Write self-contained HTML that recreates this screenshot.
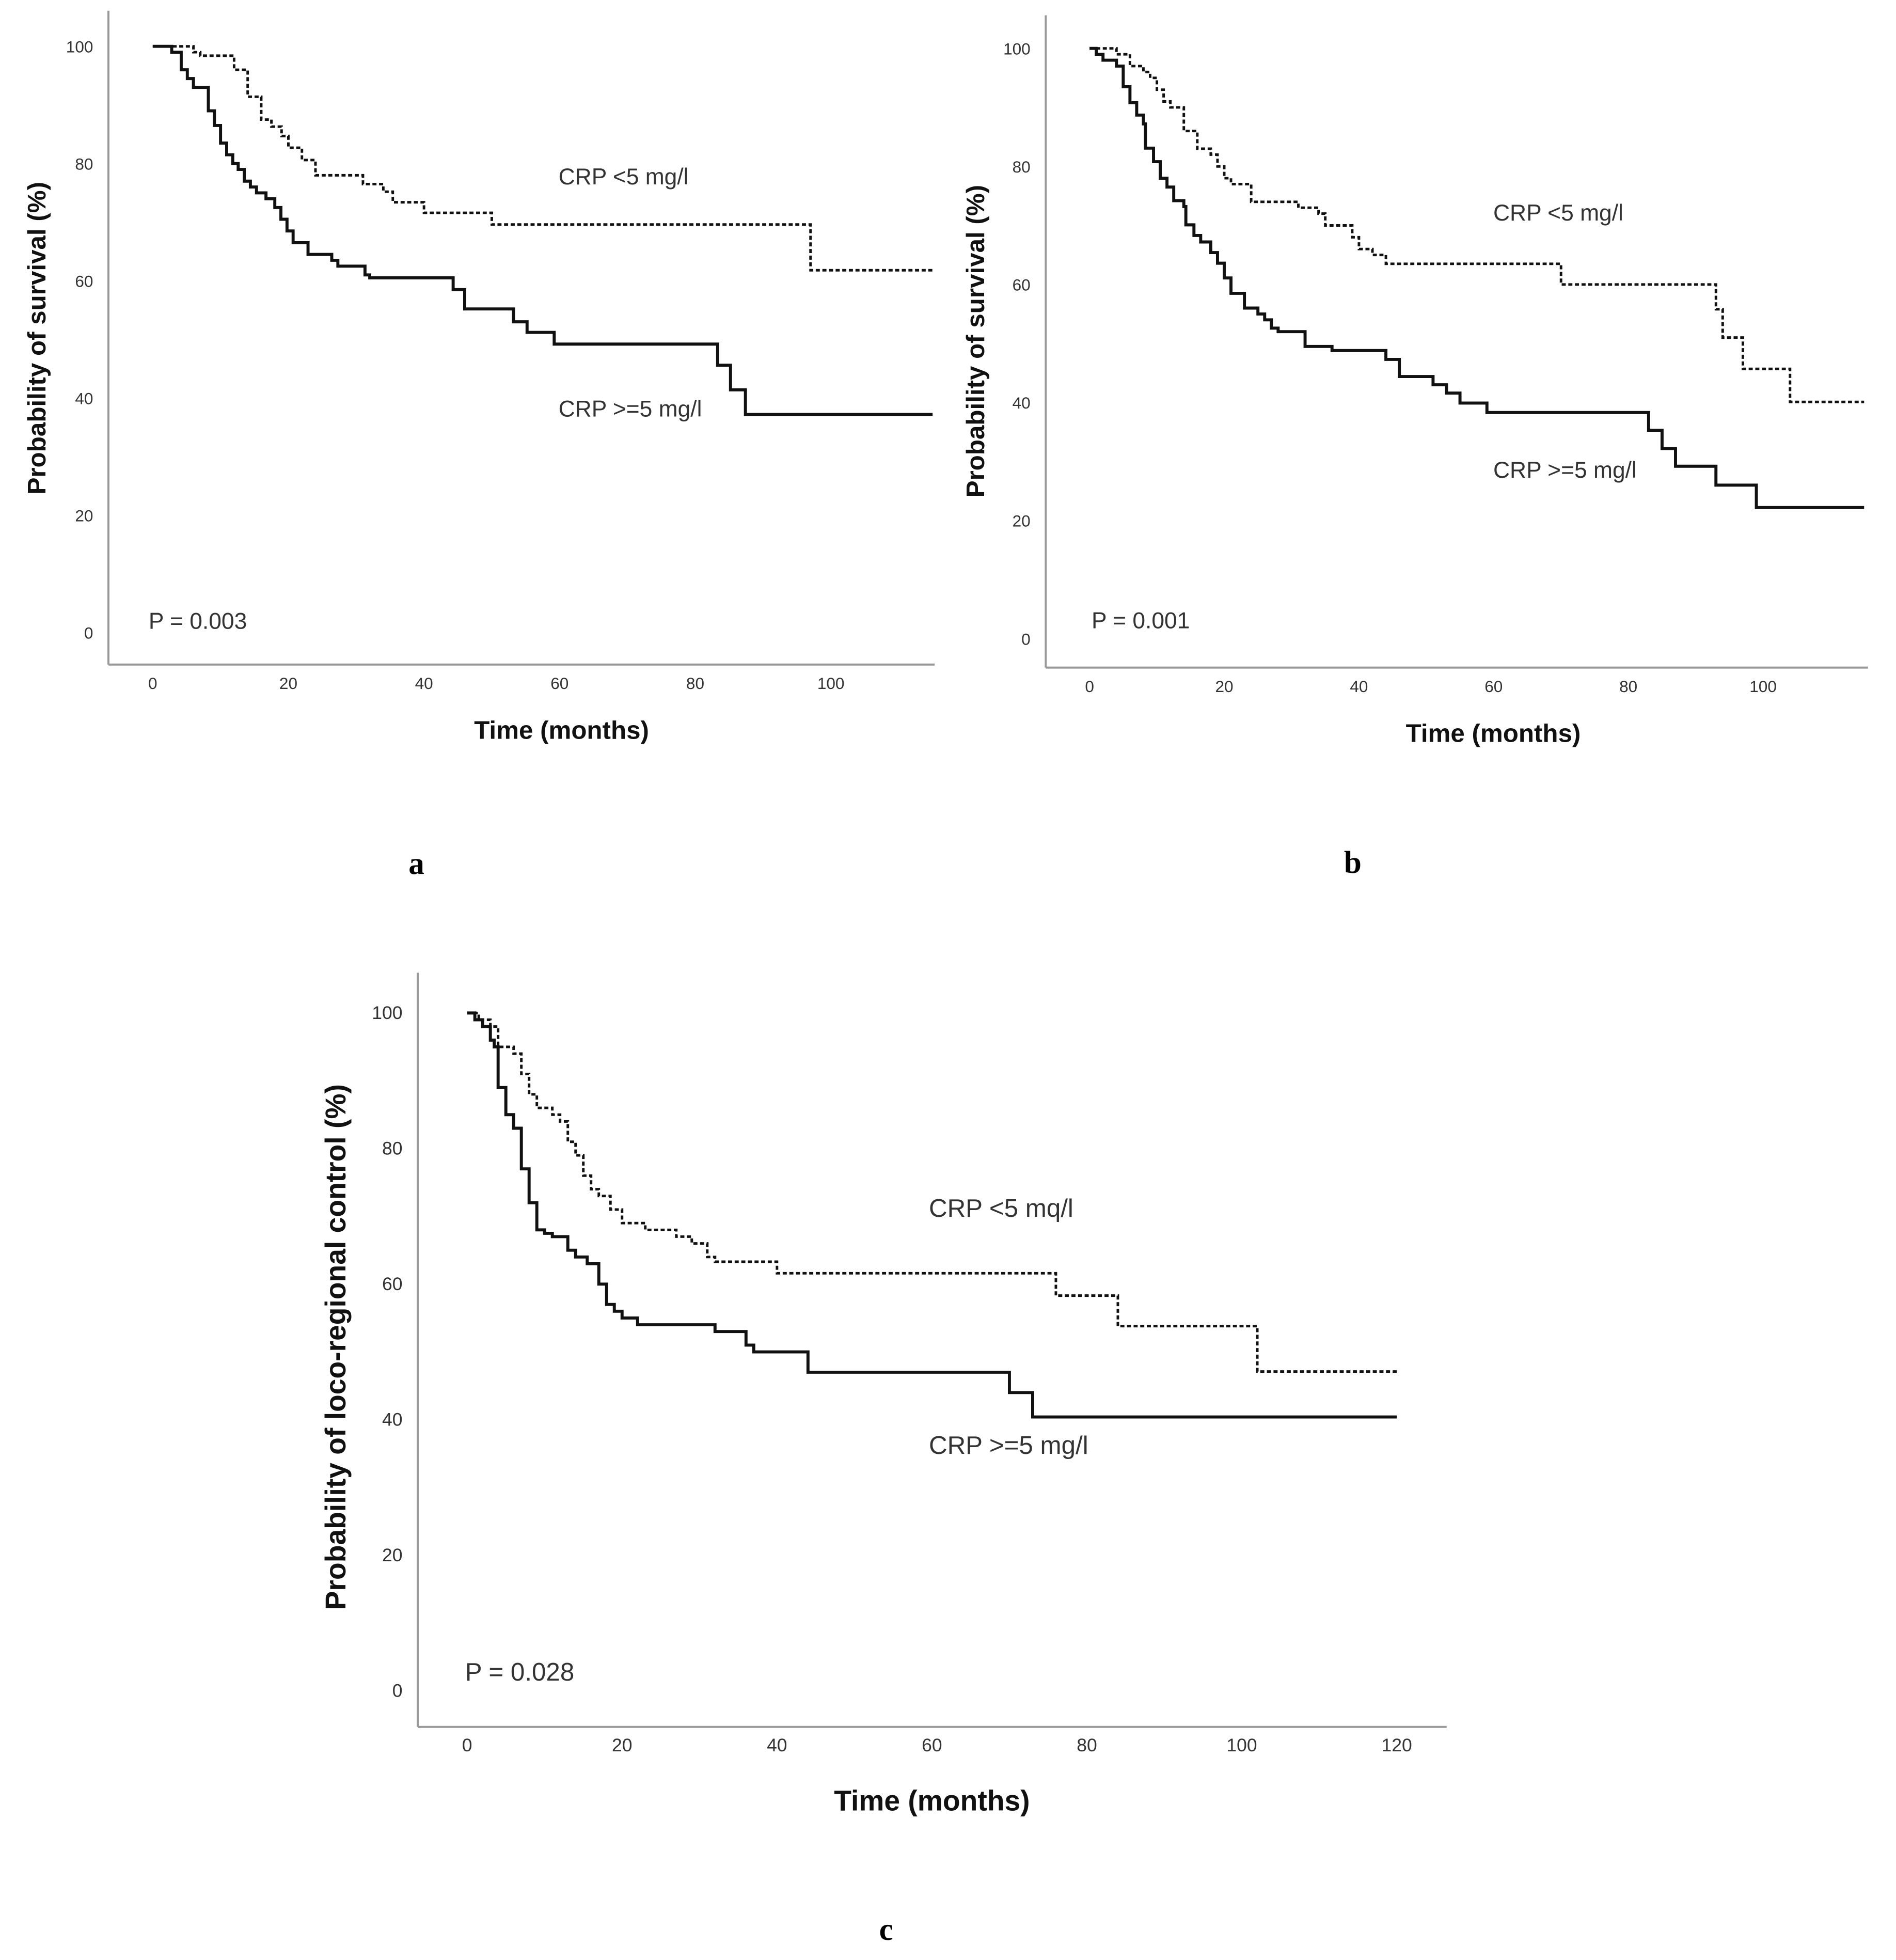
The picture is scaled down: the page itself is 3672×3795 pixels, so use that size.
<!DOCTYPE html>
<html><head><meta charset="utf-8">
<style>
html,body{margin:0;padding:0;background:#fff;}
svg{display:block;}
text{font-family:"Liberation Sans",sans-serif;}
</style></head>
<body>
<svg id="fig" width="3672" height="3795" viewBox="0 0 3672 3795" xmlns="http://www.w3.org/2000/svg"></svg>
<script>
// ---- Panel a data ----
const aLowT = [0,6,7,12,14,16,17.5,19,20,22,24,31,34,35.4,40,50,97,115];
const aLowS = [100,99,98.4,96,91.4,87.5,86.3,84.7,82.7,80.6,78,76.5,75.2,73.4,71.6,69.6,61.8,61.8];
const aHighT = [0,2.8,4.2,5.1,6,8.2,9.1,10,10.9,11.8,12.6,13.5,14.4,15.3,16.7,18,18.9,19.8,20.7,22.9,26.4,27.3,31.3,32,44.3,46,53.2,55.2,59.2,83.3,85.2,87.4,115];
const aHighS = [100,99,96,94.5,93,89,86.5,83.5,81.5,80,79,77,76,75,74,72.5,70.5,68.5,66.5,64.5,63.5,62.5,61,60.5,58.5,55.2,53,51.2,49.2,45.6,41.4,37.2,37.2];
// ---- Panel b data ----
const bLowT = [0,4,6,8,9,10,11,12,14,16,18,19,20,21,24,31,34,35,39,40,42,44,70,93,94,97,104,115];
const bLowS = [100,99,97,96,95,93,91,90,86,83,82,80,78,77,74,73,72,70,68,66,65,63.5,60,55.8,51,45.7,40.1,40.1];
const bHighT = [0,1,2,4,5,6,7,8,8.3,9.5,10.5,11.5,12.5,14,14.3,15.5,16.5,18,19,20,21,23,25,26,27,28,32,36,44,46,51,53,55,59,83,85,87,93,99,115];
const bHighS = [100,99,98,97,93.5,90.8,88.7,87.2,83.1,80.8,78,76.5,74.2,73.2,70.1,68.3,67.2,65.4,63.6,61.1,58.5,56,55,54,52.6,52,49.5,48.8,47.3,44.4,43,41.6,39.9,38.3,35.3,32.2,29.2,26,22.2,22.2];
// ---- Panel c data ----
const cLowT = [0,1.5,3,4,6,7,8,9,11,12,13,14,15,16,17,18.5,20,23,27,29,31,32,40,76,84,102,120];
const cLowS = [100,99,98,95,94,91,88,86,85,84,81,79,76,74,73,71,69,68,67,66,64,63.3,61.6,58.3,53.8,47.1,47.1];
const cHighT = [0,1,2,3,3.5,4,5,6,7,8,9,10,11,13,14,15.5,17,18,19,20,22,32,36,37,44,70,73,120];
const cHighS = [100,99,98,96,95,89,85,83,77,72,68,67.5,67,65,64,63,60,57,56,55,54,53,51,50,47,44,40.4,40.4];
// ---- ticks ----
const yTicks = [0,20,40,60,80,100];
const xTicksAB = [0,20,40,60,80,100];
const xTicksC = [0,20,40,60,80,100,120];

const NS = "http://www.w3.org/2000/svg";
const svg = document.getElementById('fig');
function mk(tag, attrs, parent){ const e=document.createElementNS(NS,tag); for(const k in attrs) e.setAttribute(k,attrs[k]); (parent||svg).appendChild(e); return e; }

function panel(p){
  const g = mk('g',{transform:'translate('+p.ox+','+p.oy+') scale(0.986) translate('+(-p.ox)+','+(-p.oy)+')'});
  
  
  const X = m => p.x0 + (p.x1 - p.x0) * m / p.xMax;
  const Y = v => p.y0 + (p.y100 - p.y0) * v / 100;
  const ya = mk('line',{x1:p.ax,y1:p.top,x2:p.ax,y2:p.ay,stroke:'#999','stroke-width':4},g);
  
  
  const xa = mk('line',{x1:p.ax,y1:p.ay,x2:p.right,y2:p.ay,stroke:'#999','stroke-width':4},g);
  
  
  yTicks.forEach(v=>{
    const t = mk('text',{x:p.ax-30,y:Y(v)+12,'text-anchor':'end','font-size':p.tf,fill:'#333'},g);
    t.textContent = v;
    
    
  });
  p.xt.forEach(v=>{
    const t = mk('text',{x:X(v),y:p.ay+48,'text-anchor':'middle','font-size':p.tf,fill:'#333'},g);
    t.textContent = v;
    
    
  });
  function step(T,S,dashed,name){
    let d = 'M'+X(T[0])+','+Y(S[0]);
    for(let i=1;i<T.length;i++){ d += ' H'+X(T[i])+' V'+Y(S[i]); }
    const path = mk('path',{d:d,fill:'none',stroke:'#111','stroke-width':dashed?5:6,'stroke-dasharray':dashed?'8 5':'none'},g);
    
    
  }
  step(p.lowT,p.lowS,true,'curve-crp-low-'+p.id);
  step(p.highT,p.highS,false,'curve-crp-high-'+p.id);
  const yt = mk('text',{x:0,y:0,'text-anchor':'middle','font-size':p.titleF,'font-weight':'bold',fill:'#111',transform:'translate('+(p.ytx+18)+','+p.yty+') rotate(-90)'},g);
  yt.textContent = p.ytitle;
  
  
  const xt = mk('text',{x:p.xtx,y:p.xty+18,'text-anchor':'middle','font-size':p.titleF,'font-weight':'bold',fill:'#111'},g);
  xt.textContent = 'Time (months)';
  
  
  const l1 = mk('text',{x:p.lx,y:p.l1y+16,'font-size':p.lf,fill:'#333'},g);
  l1.textContent = p.l1;
  
  
  const l2 = mk('text',{x:p.lx,y:p.l2y+16,'font-size':p.lf,fill:'#333'},g);
  l2.textContent = 'CRP >=5 mg/l';
  
  
  const pv = mk('text',{x:p.px,y:p.py+16,'font-size':p.lf,fill:'#333'},g);
  pv.textContent = p.pval;
  
  
  const pl = mk('text',{x:p.lbx,y:p.lby+20,'text-anchor':'middle','font-size':62,'font-weight':'bold',fill:'#000'},g);
  pl.setAttribute('style','font-family:"Liberation Serif",serif');
  pl.textContent = p.id;
  
  
}

panel({id:'a',ox:0,oy:0,x0:300,x1:1632,xMax:100,y0:1242,y100:91,ax:213,ay:1305,top:21,right:1836,xt:xTicksAB,tf:32,titleF:50,lf:45,
  lowT:aLowT,lowS:aLowS,highT:aHighT,highS:aHighS,ytitle:'Probability of survival (%)',ytx:71,yty:664,xtx:1103,xty:1433,
  l1:'CRP <5 mg/l',lx:1097,l1y:346,l2y:802,px:292,py:1219,pval:'P = 0.003',lbx:818,lby:1696});
panel({id:'b',ox:1836,oy:0,x0:2114,x1:3437,xMax:100,y0:1254,y100:95,ax:2028,ay:1311,top:30,right:3643,xt:xTicksAB,tf:32,titleF:50,lf:45,
  lowT:bLowT,lowS:bLowS,highT:bHighT,highS:bHighS,ytitle:'Probability of survival (%)',ytx:1889,yty:670,xtx:2907,xty:1439,
  l1:'CRP <5 mg/l',lx:2907,l1y:417,l2y:922,px:2118,py:1218,pval:'P = 0.001',lbx:2631,lby:1694});
panel({id:'c',ox:600,oy:1495,x0:909,x1:2735,xMax:120,y0:3299,y100:1968,ax:812,ay:3370,top:1889,right:2833,xt:xTicksC,tf:36,titleF:56,lf:50,
  lowT:cLowT,lowS:cLowS,highT:cHighT,highS:cHighS,ytitle:'Probability of loco-regional control (%)',ytx:652,yty:2624,xtx:1822,xty:3516,
  l1:'CRP <5 mq/l',lx:1816,l1y:2352,l2y:2818,px:905,py:3263,pval:'P = 0.028',lbx:1732,lby:3768});
</script>
</body></html>
